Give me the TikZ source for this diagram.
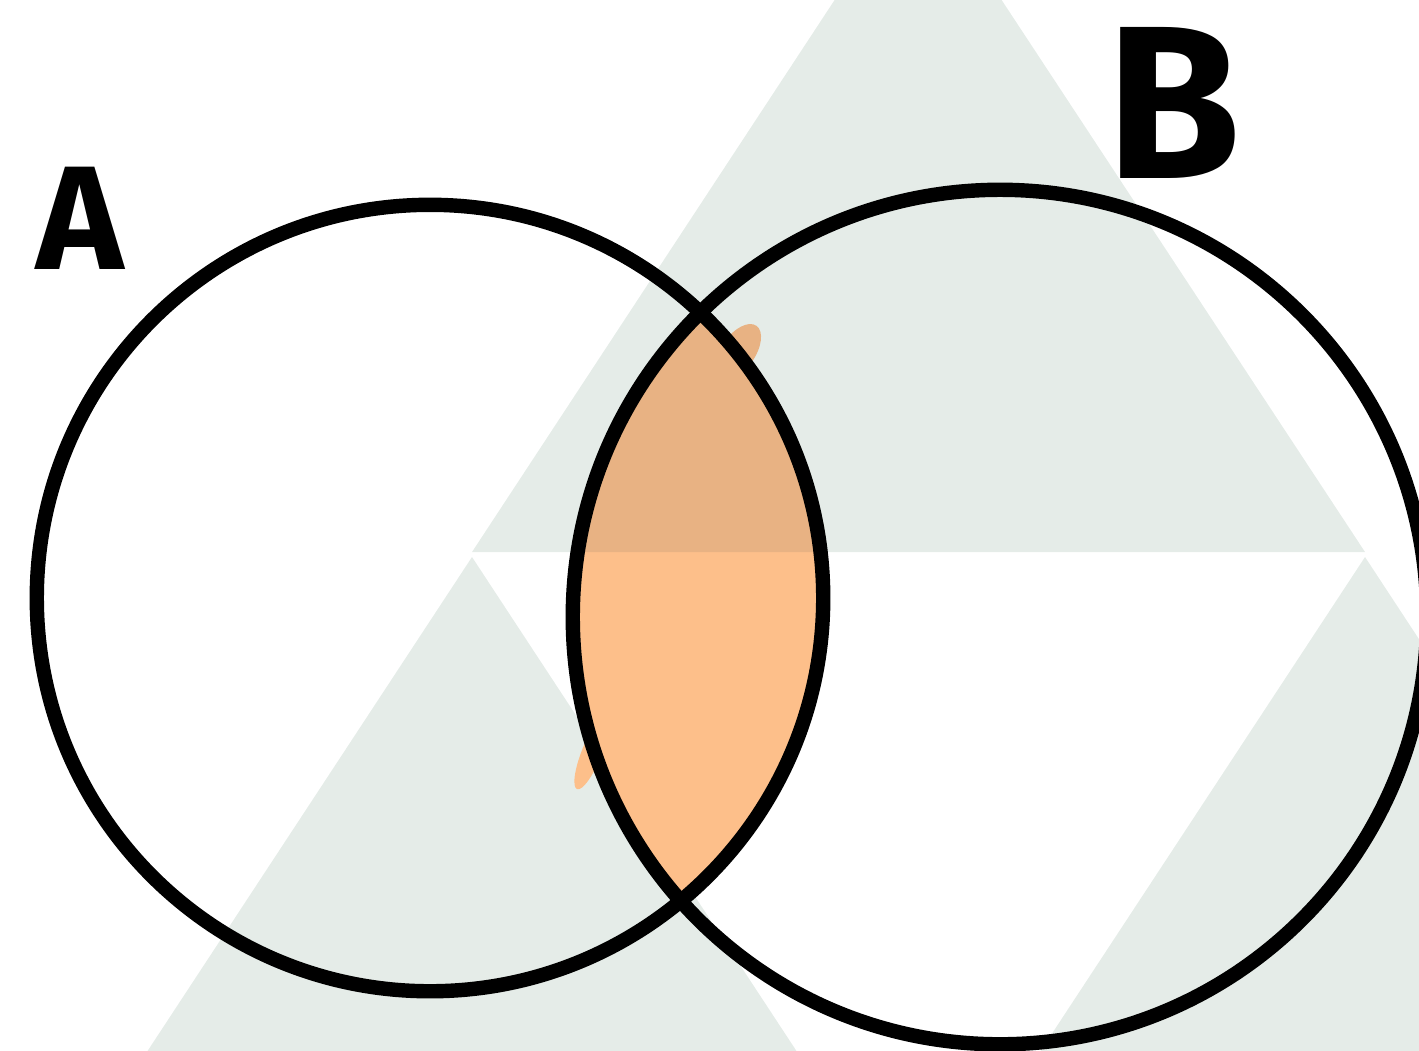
\documentclass[tikz,border=0pt]{standalone}
\usepackage{fontspec}
\setmainfont{Fira Sans}
\usepackage{tikz}
\usetikzlibrary{positioning}
\definecolor{tiles}{HTML}{E5ECE8}
\definecolor{lens}{HTML}{FDBF8A}
\definecolor{lensdark}{HTML}{E8B283}
\tikzset{
    tile/.style={fill=tiles, draw=none},
    setline/.style={draw=black, line width=4.1pt},
    setlabel/.style={font=\bfseries, inner sep=0pt}
}
\def\circA{(430,598) circle [radius=3.93cm]}
\def\circB{(1000,617) circle [radius=4.27cm]}
\def\upTile{(472,552) -- (918,-127) -- (1365,552) -- cycle}
\def\lowTile{(472,557) -- (26,1236) -- (918,1236) -- cycle}

\begin{document}
\begin{tikzpicture}[x=0.01cm, y=-0.01cm]
    \useasboundingbox (0,0) rectangle (1419,1050);
    \clip (0,0) rectangle (1419,1050);
    % background tiles
    \fill[tile] \upTile;
    \fill[tile] \lowTile;
    \fill[tile] (1365,557) -- (919,1236) -- (1811,1236) -- cycle;
    % A and B
    \begin{scope}
        \clip \circA;
        \fill[lens] \circB;
        \clip \upTile;
        \fill[lensdark] \circB;
    \end{scope}
    % colour spilling over the lines
    \fill[lensdark, rotate around={-35:(738,352)}] (738,352) ellipse [x radius=0.17cm, y radius=0.32cm];
    \fill[lens, rotate around={-22:(592,752)}] (592,752) ellipse [x radius=0.1cm, y radius=0.4cm];
    \draw[setline] \circA;
    \draw[setline] \circB;
    \node[setlabel, font=\bfseries\fontsize{42}{42}\selectfont] (labA) at (80,218) {A};
    \node[setlabel, font=\bfseries\fontsize{62}{62}\selectfont] (labB) at (1174,103) {B};
\end{tikzpicture}
\end{document}
